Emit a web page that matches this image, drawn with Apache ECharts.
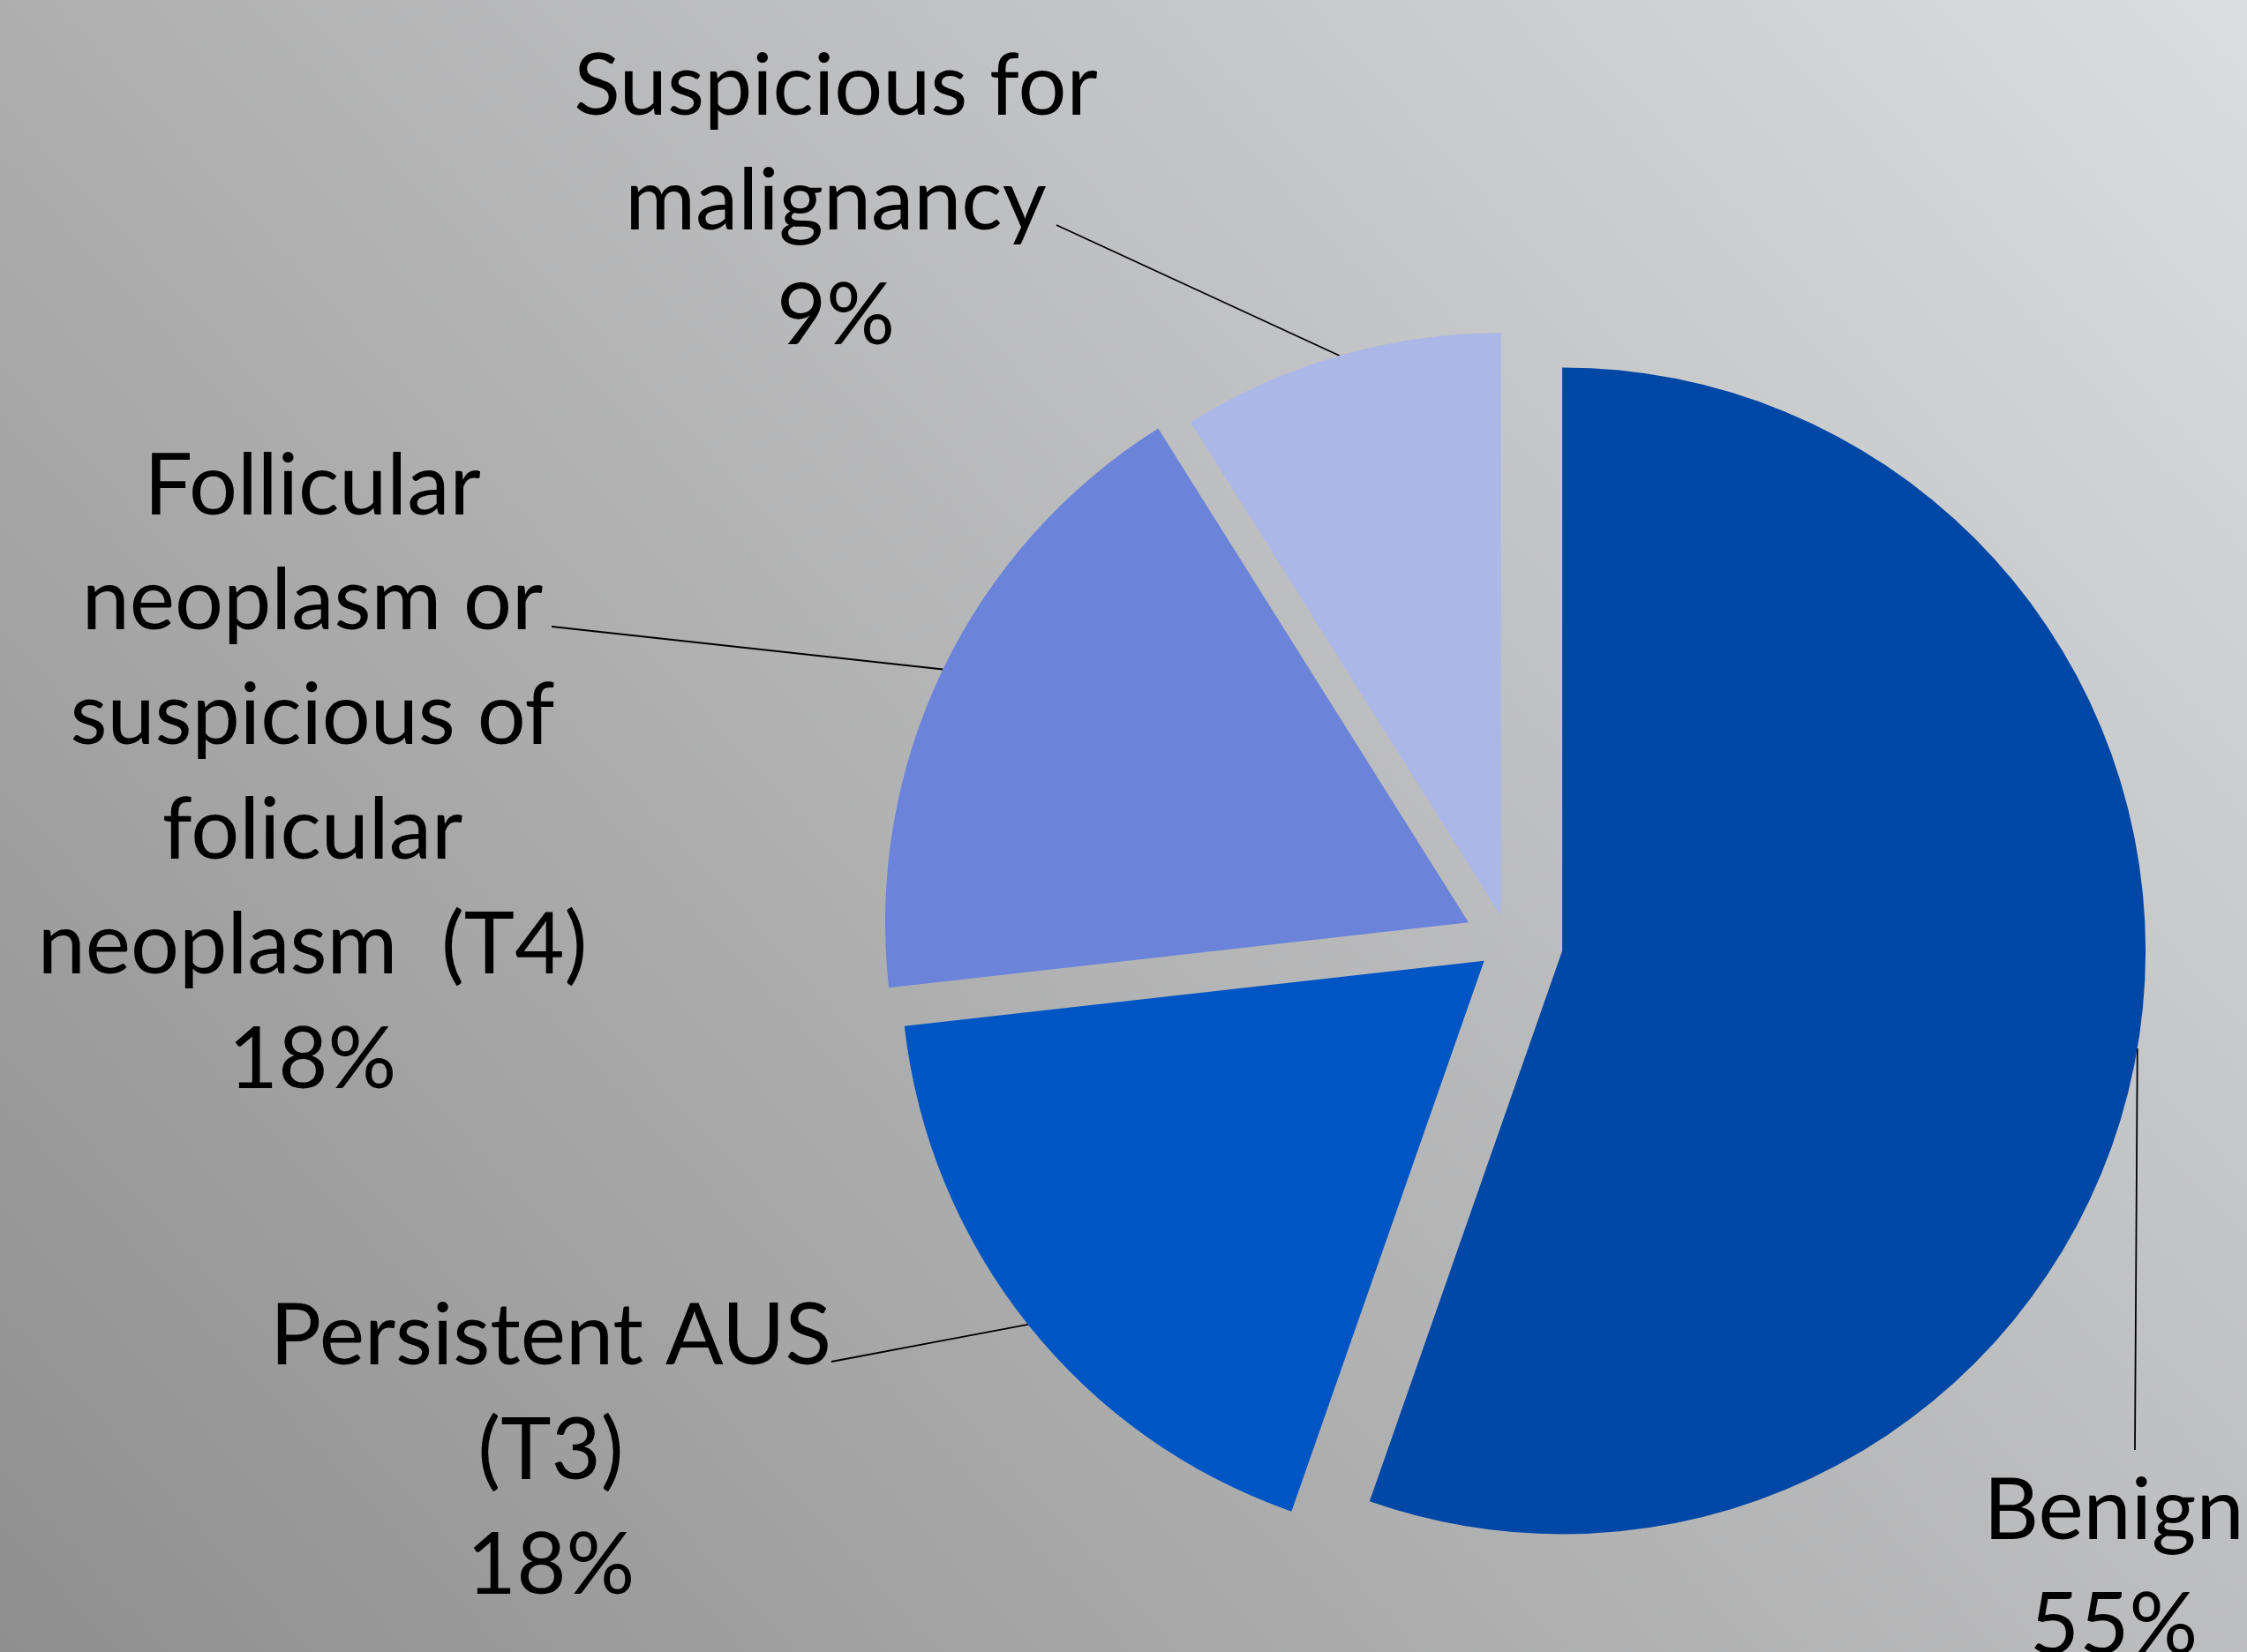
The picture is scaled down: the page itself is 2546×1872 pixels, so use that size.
<!DOCTYPE html>
<html>
<head>
<meta charset="utf-8">
<script src="https://cdn.jsdelivr.net/npm/echarts@6/dist/echarts.min.js"></script>
<style>
html,body{margin:0;padding:0;overflow:hidden;}
#chart{width:2546px;height:1872px;}
</style>
</head>
<body>
<div id="chart"></div>
<script>
// ---- data ----
const categories = ['Benign', 'Persistent AUS (T3)', 'Follicular neoplasm or suspicious of folicular neoplasm  (T4)', 'Suspicious for malignancy'];
const labelNames = ['Benign', 'Persistent AUS\n(T3)', 'Follicular\nneoplasm or\nsuspicious of\nfolicular\nneoplasm  (T4)', 'Suspicious for\nmalignancy'];
const values = [31, 10, 10, 5];

// ---- styling / layout ----
const colors = ['#0047A6', '#0055C5', '#6B84DA', '#ABB7E7'];
const pieCenter = [1709, 1067];
const pieRadius = 661;
const explode = [62, 35, 50, 30];
const labelPos = [[2395, 1778], [624, 1645], [354, 877], [947, 229]];
const lineEndOffset = [[24, -135], [318, -102], [271, -167], [250, 26]];

const chart = echarts.init(document.getElementById('chart'), null, {renderer: 'canvas'});
const total = values.reduce((a, b) => a + b, 0);
let cum = 0;
const series = values.map((v, i) => {
  const mid = (cum + v / 2) / total * 2 * Math.PI;
  cum += v;
  const c = [pieCenter[0] + explode[i] * Math.sin(mid), pieCenter[1] - explode[i] * Math.cos(mid)];
  return {
    type: 'pie',
    center: c,
    radius: pieRadius,
    startAngle: 90,
    clockwise: true,
    avoidLabelOverlap: false,
    silent: true,
    animation: false,
    emphasis: {disabled: true},
    data: values.map((val, j) => ({
      value: val,
      name: categories[j],
      itemStyle: {color: j === i ? colors[j] : 'rgba(0,0,0,0)', borderWidth: 0},
      label: {show: j === i},
      labelLine: {show: j === i}
    })),
    label: {
      position: 'outside',
      formatter: p => labelNames[p.dataIndex] + '\n' + Math.round(p.percent) + '%',
      fontFamily: 'Lato',
      fontSize: 97,
      lineHeight: 130,
      color: '#000',
      align: 'center'
    },
    labelLine: {
      show: true,
      length: 20,
      length2: 20,
      lineStyle: {color: '#000', width: 1.8}
    },
    labelLayout: p => {
      const k = p.dataIndex;
      const pos = labelPos[k];
      const start = p.labelLinePoints ? p.labelLinePoints[0] : pos;
      const end = [pos[0] + lineEndOffset[k][0], pos[1] + lineEndOffset[k][1]];
      return {
        x: pos[0],
        y: pos[1],
        align: 'center',
        verticalAlign: 'middle',
        labelLinePoints: [start, [(start[0] + end[0]) / 2, (start[1] + end[1]) / 2], end]
      };
    }
  };
});

chart.setOption({
  animation: false,
  backgroundColor: {
    type: 'linear', x: 0, y: 1872, x2: 2316, y2: -250, global: true,
    colorStops: [
      {offset: 0, color: '#8F8F8F'},
      {offset: 1, color: '#DCDDDF'}
    ]
  },
  series: series
});
</script>
</body>
</html>
